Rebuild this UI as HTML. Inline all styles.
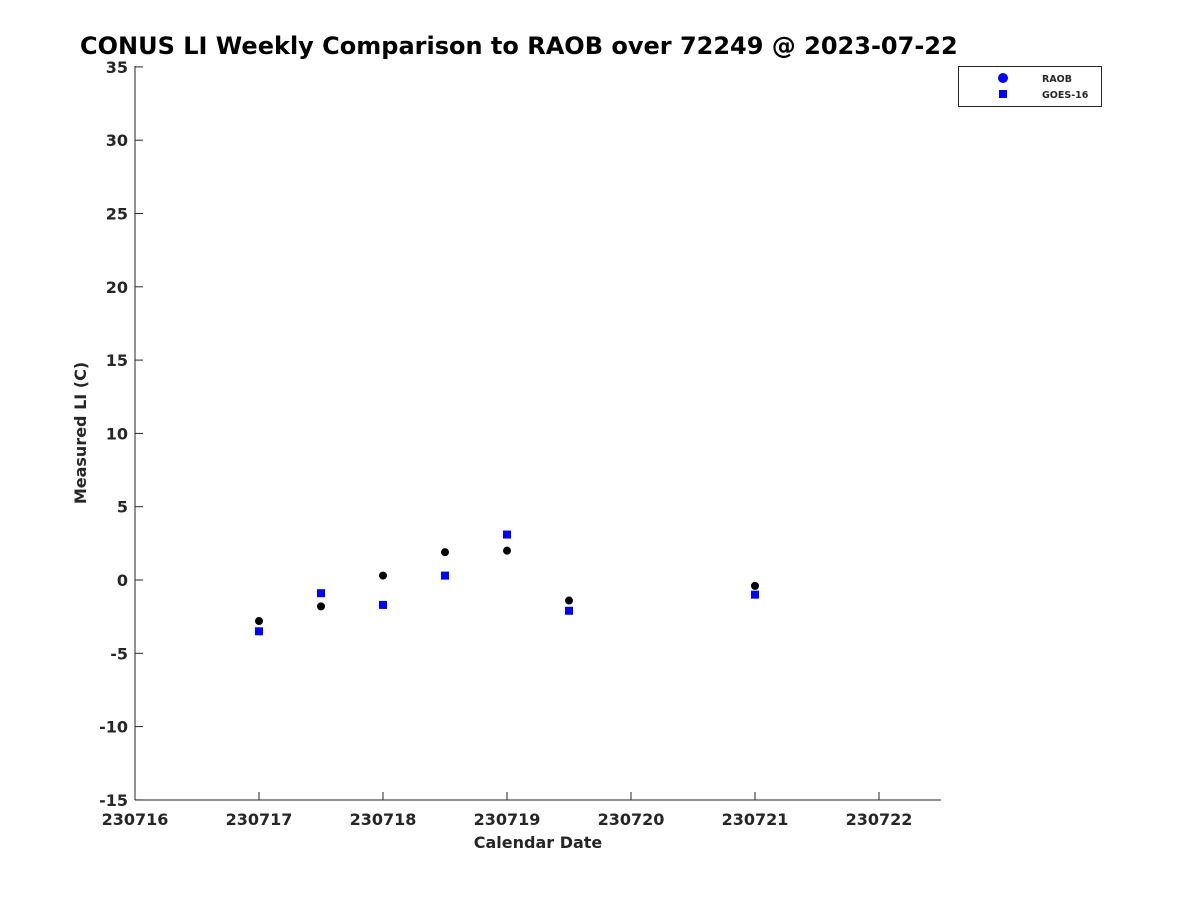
<!DOCTYPE html>
<html><head><meta charset="utf-8"><style>
body{margin:0;background:#fff;}
svg text{font-family:"DejaVu Sans","Liberation Sans",sans-serif;font-weight:bold;fill:#262626;}
</style></head><body>
<svg width="1200" height="900">
<text x="80" y="54" font-size="24" style="fill:#000">CONUS LI Weekly Comparison to RAOB over 72249 @ 2023-07-22</text>
<g id="axes"></g>
<g id="marks"></g>
<text x="538" y="848" font-size="16" text-anchor="middle">Calendar Date</text>
<text transform="translate(86,433) rotate(-90)" font-size="16" text-anchor="middle">Measured LI (C)</text>
<g>
<rect x="958.5" y="66.5" width="143" height="40" fill="#fff" stroke="#262626" stroke-width="1"/>
<circle cx="1003" cy="78" r="5" fill="#0000ff"/>
<text x="1042" y="82" font-size="9.5">RAOB</text>
<rect x="999" y="90" width="8" height="8" fill="#0000ff"/>
<text x="1042" y="98" font-size="9.5">GOES-16</text>
</g>
</svg>
<script>
const xCats=[230717,230717.5,230718,230718.5,230719,230719.5,230721];
const raobVals=[-2.8,-1.8,0.3,1.9,2.0,-1.4,-0.4];
const goesVals=[-3.5,-0.9,-1.7,0.3,3.1,-2.1,-1.0];
const xTicks=[230716,230717,230718,230719,230720,230721,230722];
const yTicks=[-15,-10,-5,0,5,10,15,20,25,30,35];
const NS='http://www.w3.org/2000/svg';
const X=v=>135+(v-230716)*124;
const Y=v=>580-v*14.66;
const ax=document.getElementById('axes'),mk=document.getElementById('marks');
function mkEl(t,a,p){const e=document.createElementNS(NS,t);for(const k in a)e.setAttribute(k,a[k]);p.appendChild(e);return e;}
mkEl('line',{x1:135,y1:66,x2:135,y2:800,stroke:'#262626'},ax);
mkEl('line',{x1:135,y1:800,x2:941,y2:800,stroke:'#262626'},ax);
xTicks.forEach(t=>{
 mkEl('line',{x1:X(t),y1:800,x2:X(t),y2:792,stroke:'#262626'},ax);
 const e=mkEl('text',{x:X(t),y:825,'font-size':16,'text-anchor':'middle'},ax);
 
 
 e.textContent=t;
});
yTicks.forEach(t=>{
 mkEl('line',{x1:135,y1:Y(t),x2:143,y2:Y(t),stroke:'#262626'},ax);
 const e=mkEl('text',{x:128,y:Y(t)+6,'font-size':16,'text-anchor':'end'},ax);
 
 
 e.textContent=t;
});
xCats.forEach((c,i)=>{
 const r=mkEl('rect',{x:X(c)-4,y:Y(goesVals[i])-4,width:8,height:8,fill:'#0000ff'},mk);
 
 
 const p=mkEl('circle',{cx:X(c),cy:Y(raobVals[i]),r:4,fill:'#000'},mk);
 
 
});
</script>
</body></html>
